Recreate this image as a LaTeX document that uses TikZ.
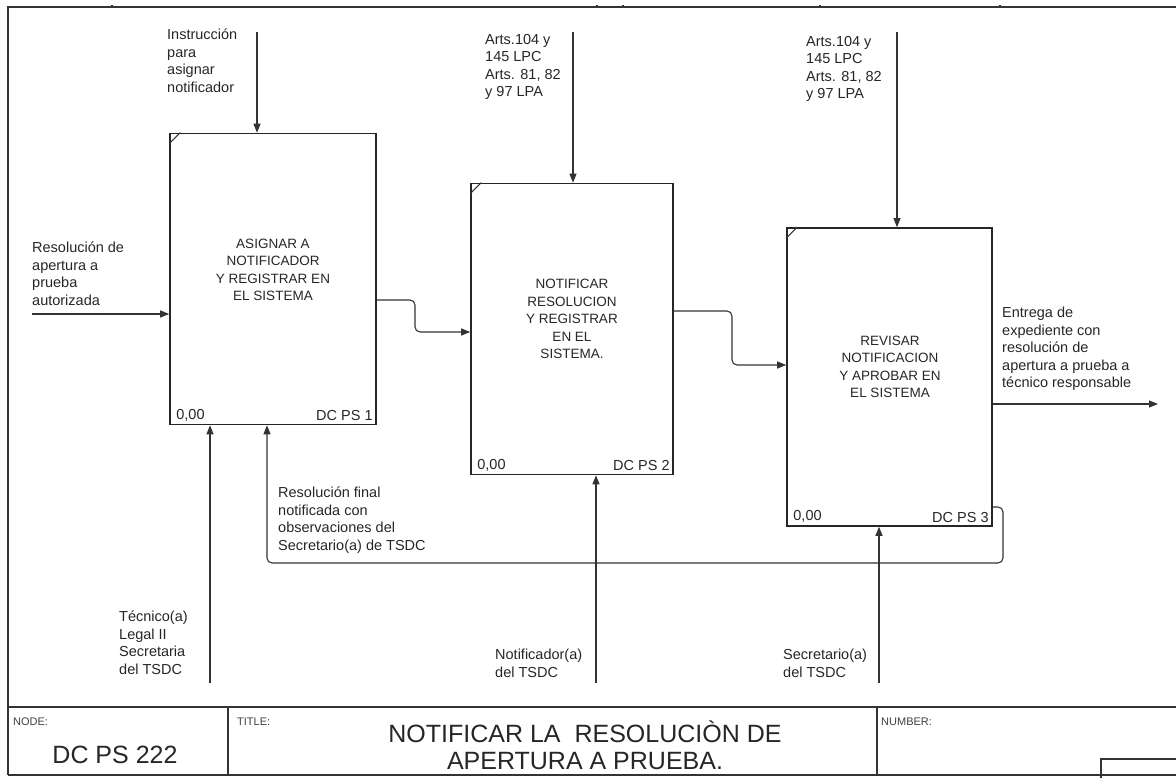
\documentclass[tikz,border=0pt]{standalone}
\usepackage{fontspec}
\setmainfont{Liberation Sans}
\usetikzlibrary{arrows.meta}

\begin{document}
\begin{tikzpicture}[x=1pt, y=-1pt,
    line/.style={draw=black!80, line width=1.1pt},
    flow/.style={line, -{Triangle[length=9pt,width=7pt]}},
    actbox/.style={draw=black!85, line width=1.6pt, inner sep=0pt},
    acttext/.style={align=center, inner sep=0pt, text=black!85, font=\fontsize{13.5}{17.5}\selectfont},
    lbl/.style={align=left, inner sep=0pt, anchor=north west, text=black!85, font=\fontsize{14.5}{17.5}\selectfont},
    corner/.style={inner sep=0pt, text=black!85, font=\fontsize{14.5}{16}\selectfont},
    small/.style={inner sep=0pt, anchor=west, text=black!75, font=\fontsize{11}{13}\selectfont},
    big/.style={align=center, inner sep=0pt, text=black!85, font=\fontsize{25}{27}\selectfont}]

\useasboundingbox (0,0) rectangle (1176,778);

% -----------------------------
% Frame and title block
% -----------------------------
\draw[line] (8,775) -- (8,7) -- (1176,7);   % left and top border
\foreach \x in {112,597,623,820,1000} {
    \draw[line] (\x,7) -- ++(0,-2);
}
\draw[line] (8,707) -- (1176,707);
\draw[line] (8,775) -- (1176,775);
\draw[line] (228,707) -- (228,775);
\draw[line] (877,707) -- (877,775);
\draw[line] (1101,778) -- (1101,759) -- (1176,759);   % small box

\node[small] (nodetag) at (13,722) {NODE:};
\node[small] (titletag) at (237,722) {TITLE:};
\node[small] (numtag) at (881,722) {NUMBER:};
\node[big] (nodeno) at (115,755) {DC PS 222};
\node[big] (title) at (585,745) {NOTIFICAR LA \ RESOLUCIÒN DE\\APERTURA A PRUEBA.};

% -----------------------------
% Activity boxes
% -----------------------------
\node[actbox, minimum width=206pt, minimum height=291pt] (a1) at (273,279) {};
\node[actbox, minimum width=202pt, minimum height=291pt] (a2) at (572,329) {};
\node[actbox, minimum width=205pt, minimum height=298pt] (a3) at (889.5,377) {};

\foreach \b in {a1,a2,a3} {
    \draw[line] ([yshift=-11pt]\b.north west) -- ([xshift=11pt]\b.north west);   % corner mark
}

\node[acttext] (t1) at (273,270) {ASIGNAR A\\NOTIFICADOR\\Y REGISTRAR EN\\EL SISTEMA};
\node[acttext] (t2) at (572,319) {NOTIFICAR\\RESOLUCION\\Y REGISTRAR\\EN EL\\SISTEMA.};
\node[acttext] (t3) at (890,367) {REVISAR\\NOTIFICACION\\Y APROBAR EN\\EL SISTEMA};

\node[corner, anchor=south west] (z1) at ([shift={(7,-4)}]a1.south west) {0,00};
\node[corner, anchor=south east] (d1) at ([shift={(-4,-4)}]a1.south east) {DC PS 1};
\node[corner, anchor=south west] (z2) at ([shift={(7,-4)}]a2.south west) {0,00};
\node[corner, anchor=south east] (d2) at ([shift={(-4,-4)}]a2.south east) {DC PS 2};
\node[corner, anchor=south west] (z3) at ([shift={(7,-4)}]a3.south west) {0,00};
\node[corner, anchor=south east] (d3) at ([shift={(-4,-4)}]a3.south east) {DC PS 3};

% -----------------------------
% Controls (top)
% -----------------------------
\coordinate (c1) at (257,32);
\coordinate (c2) at (573,32);
\coordinate (c3) at (897,32);
\draw[flow] (c1) -- (c1 |- a1.north);
\draw[flow] (c2) -- (c2 |- a2.north);
\draw[flow] (c3) -- (c3 |- a3.north);

\node[lbl] (lc1) at (167,29) {Instrucción\\para\\asignar\\notificador};
\node[lbl] (lc2) at (485,34) {Arts.104 y\\145 LPC\\Arts. 81, 82\\y 97 LPA};
\node[lbl] (lc3) at (806,36) {Arts.104 y\\145 LPC\\Arts. 81, 82\\y 97 LPA};

% -----------------------------
% Input, links and output
% -----------------------------
\coordinate (in1) at (32,314);
\draw[flow] (in1) -- (in1 -| a1.west);
\node[lbl] (lin) at (32,242) {Resolución de\\apertura a\\prueba\\autorizada};

\draw[flow, rounded corners=5pt] (a1.east |- 0,300) -| (415,332) -- (a2.west |- 0,332);
\draw[flow, rounded corners=5pt] (a2.east |- 0,311) -| (732,365) -- (a3.west |- 0,365);

\coordinate (out3) at (1158,404);
\draw[flow] (a3.east |- out3) -- (out3);
\node[lbl] (lout) at (1002,307) {Entrega de\\expediente con\\resolución de\\apertura a prueba a\\técnico responsable};

% feedback to box 1
\coordinate (fb) at (267,563);
\draw[flow, rounded corners=5pt] (a3.east |- 0,507) -- (1003,507) -- (1003,563) -- (fb) -- (fb |- a1.south);
\node[lbl] (lfb) at (278,487) {Resolución final\\notificada con\\observaciones del\\Secretario(a) de TSDC};

% -----------------------------
% Mechanisms (bottom)
% -----------------------------
\coordinate (m1) at (210,683);
\coordinate (m2) at (596,683);
\coordinate (m3) at (879,683);
\draw[flow] (m1) -- (m1 |- a1.south);
\draw[flow] (m2) -- (m2 |- a2.south);
\draw[flow] (m3) -- (m3 |- a3.south);

\node[lbl] (lm1) at (119,611) {Técnico(a)\\Legal II\\Secretaria\\del TSDC};
\node[lbl] (lm2) at (495,649) {Notificador(a)\\del TSDC};
\node[lbl] (lm3) at (783,649) {Secretario(a)\\del TSDC};

\end{tikzpicture}
\end{document}
